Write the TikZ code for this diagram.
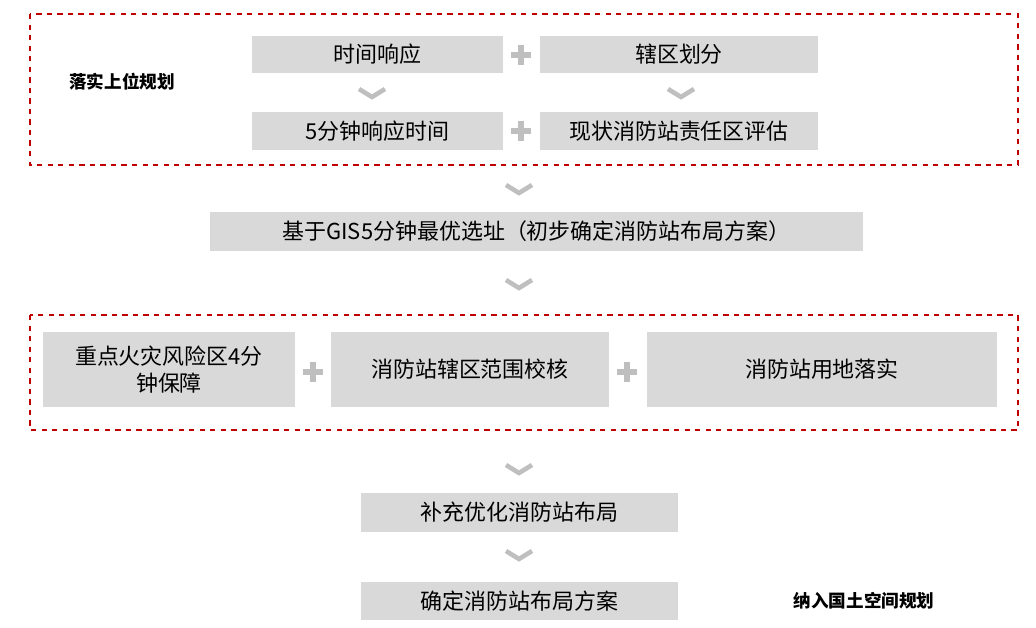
\documentclass[tikz,border=0pt]{standalone}
\usepackage{fontspec}
\newfontfamily\cjk{Noto Sans CJK SC}
\definecolor{boxgray}{HTML}{D9D9D9}
\definecolor{markgray}{HTML}{BFBFBF}
\definecolor{dashred}{HTML}{C00000}
\tikzset{
  stepbox/.style={fill=boxgray, inner sep=0pt, font=\cjk\fontsize{12.5}{15}\selectfont, align=center},
  zone/.style={draw=dashred, dashed, line width=0.7pt},
  headlabel/.style={font=\cjk\bfseries\fontsize{10}{12}\selectfont},
  chev/.style={draw=markgray, line width=2.6pt},
  plusmark/.style={draw=markgray, line width=3.2pt}
}
\newcommand{\chevron}[2]{\draw[chev] (#1-13,#2-5) -- (#1,#2+3) -- (#1+13,#2-5);}
\newcommand{\plusat}[2]{\draw[plusmark] (#1-10,#2) -- (#1+10,#2) (#1,#2-10) -- (#1,#2+10);}
\begin{document}
\begin{tikzpicture}[x=0.02cm, y=-0.02cm]
  \useasboundingbox (0,0) rectangle (1036,628);

  % upper zone
  \draw[zone] (30,14) rectangle (1018,165);
  \node[headlabel] (plan) at (122,82) {落实上位规划};
  \node[stepbox, minimum width=251*0.02cm, minimum height=37*0.02cm] (time) at (377.5,54.5) {时间响应};
  \node[stepbox, minimum width=278*0.02cm, minimum height=37*0.02cm] (area) at (679,54.5) {辖区划分};
  \plusat{521}{55}
  \chevron{372}{94}
  \chevron{681}{94}
  \node[stepbox, minimum width=251*0.02cm, minimum height=38*0.02cm] (five) at (377.5,131) {5分钟响应时间};
  \node[stepbox, minimum width=278*0.02cm, minimum height=38*0.02cm] (eval) at (679,131) {现状消防站责任区评估};
  \plusat{521}{131}

  \chevron{519}{190}
  \node[stepbox, minimum width=653*0.02cm, minimum height=39*0.02cm] (gis) at (536.5,231.5) {基于GIS5分钟最优选址（初步确定消防站布局方案）};
  \chevron{519}{285}

  % lower zone
  \draw[zone] (30,315) rectangle (1018,430);
  \node[stepbox, minimum width=252*0.02cm, minimum height=75*0.02cm, text width=230*0.02cm] (risk) at (169,369.5) {重点火灾风险区4分\\钟保障};
  \node[stepbox, minimum width=278*0.02cm, minimum height=75*0.02cm] (check) at (470,369.5) {消防站辖区范围校核};
  \node[stepbox, minimum width=350*0.02cm, minimum height=75*0.02cm] (land) at (822,369.5) {消防站用地落实};
  \plusat{313}{372}
  \plusat{627}{372}

  \chevron{519}{470}
  \node[stepbox, minimum width=317*0.02cm, minimum height=39*0.02cm] (opt) at (519.5,512.5) {补充优化消防站布局};
  \chevron{519}{556}
  \node[stepbox, minimum width=317*0.02cm, minimum height=38*0.02cm] (final) at (519.5,601) {确定消防站布局方案};
  \node[headlabel] (land plan) at (864,601) {纳入国土空间规划};
\end{tikzpicture}
\end{document}
